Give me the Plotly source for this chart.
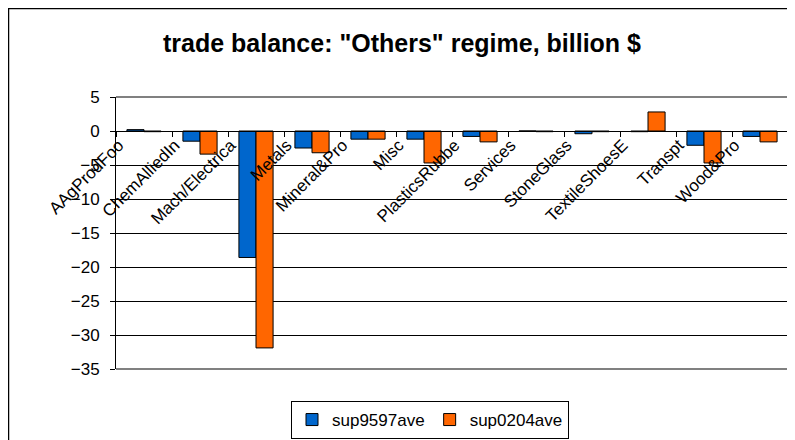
import plotly.graph_objects as go

# categories and visible (clipped) tick labels
categories = ["AAgProdFood", "ChemAlliedInd", "Mach/Electrical", "Metals", "Mineral&Prod", "Misc",
              "PlasticsRubber", "Services", "StoneGlass", "TextileShoesEtc", "Transpt", "Wood&Prod"]
tick_labels = ["AAgProdFoo", "ChemAlliedIn", "Mach/Electrica", "Metals", "Mineral&Pro", "Misc",
               "PlasticsRubbe", "Services", "StoneGlass", "TextileShoesE", "Transpt", "Wood&Pro"]

sup9597ave = [0.2, -1.5, -18.6, -2.5, -1.2, -1.2, -0.8, 0.0, -0.4, -0.1, -2.1, -0.8]
sup0204ave = [-0.1, -3.4, -31.9, -3.2, -1.2, -4.7, -1.6, -0.1, -0.1, 2.8, -4.7, -1.6]

y_ticks = [5, 0, -5, -10, -15, -20, -25, -30, -35]

FONT = "Liberation Sans, Arial, sans-serif"

# the page body has an 8px margin, so everything is laid out 8px up/left
PAD = 8
W, H = 795, 440
# plot area in screen pixels, shifted into figure pixels
L, R, T, B = 116 - PAD, 788 - PAD, 97 - PAD, 369 - PAD
def px_x(p):
    return (p - PAD - L) / (R - L)
def px_y(p):
    return (B - (p - PAD)) / (B - T)

fig = go.Figure()
fig.add_trace(go.Bar(x=categories, y=sup9597ave, name="sup9597ave",
                     marker=dict(color="#0066CC", line=dict(color="black", width=1))))
fig.add_trace(go.Bar(x=categories, y=sup0204ave, name="sup0204ave",
                     marker=dict(color="#FF6600", line=dict(color="black", width=1))))

# Excel puts the end of each slanted label a little left of the category centre
label_pos = [i - 0.45 for i in range(len(tick_labels))]
# invisible helper trace so the second x axis is drawn
fig.add_trace(go.Scatter(x=[-0.5, len(categories) - 0.5], y=[None, None], xaxis="x2",
                         showlegend=False, hoverinfo="skip"))

zero_pos = (0 - min(y_ticks)) / (max(y_ticks) - min(y_ticks))

fig.update_layout(
    width=W, height=H,
    margin=dict(l=L, r=W - R, t=T, b=H - B, autoexpand=False),
    paper_bgcolor="white", plot_bgcolor="white",
    font=dict(family=FONT, size=17, color="black"),
    barmode="group", bargap=0.39, bargroupgap=0,
    title=dict(text='<b>trade balance: "Others" regime, billion $</b>',
               font=dict(family=FONT, size=25, color="black"),
               x=px_x(402), xref="paper", xanchor="center",
               y=1 - (43 - PAD) / H, yref="container", yanchor="middle"),
    xaxis=dict(type="category", anchor="free", position=zero_pos,
               showline=True, linecolor="black", linewidth=1,
               ticks="outside", ticklen=5, tickcolor="black", tickson="boundaries",
               showticklabels=False, showgrid=False, zeroline=False),
    xaxis2=dict(overlaying="x", type="linear", range=[-0.5, len(categories) - 0.5],
                anchor="free", position=zero_pos,
                tickvals=label_pos, ticktext=tick_labels, tickangle=-45,
                tickfont=dict(family=FONT, size=17, color="black"),
                ticks="", showline=False, showgrid=False, zeroline=False),
    yaxis=dict(range=[-35, 5], tickvals=y_ticks, showgrid=True, gridcolor="black", gridwidth=1,
               showline=True, linecolor="black", linewidth=1,
               ticks="outside", ticklen=5, tickcolor="black", zeroline=False,
               ticklabelstandoff=7,
               tickfont=dict(family=FONT, size=17, color="black")),
    legend=dict(orientation="h", x=px_x(430), xanchor="center", y=px_y(401), yanchor="top",
                bordercolor="black", borderwidth=1, bgcolor="white",
                font=dict(family=FONT, size=17, color="black"),
                itemwidth=30, tracegroupgap=0),
    showlegend=True,
)

# plot area border (grey, top/right/bottom) and chart border (black)
fig.add_shape(type="path", xref="paper", yref="paper",
              path="M 0 1 L 1 1 L 1 0 L 0 0",
              line=dict(color="#808080", width=2), layer="above")
fig.add_shape(type="rect", xref="paper", yref="paper",
              x0=px_x(PAD + 0.5), x1=px_x(815), y0=px_y(460), y1=px_y(PAD + 0.5),
              line=dict(color="black", width=1.5), layer="above")

fig.write_html("out.html")
